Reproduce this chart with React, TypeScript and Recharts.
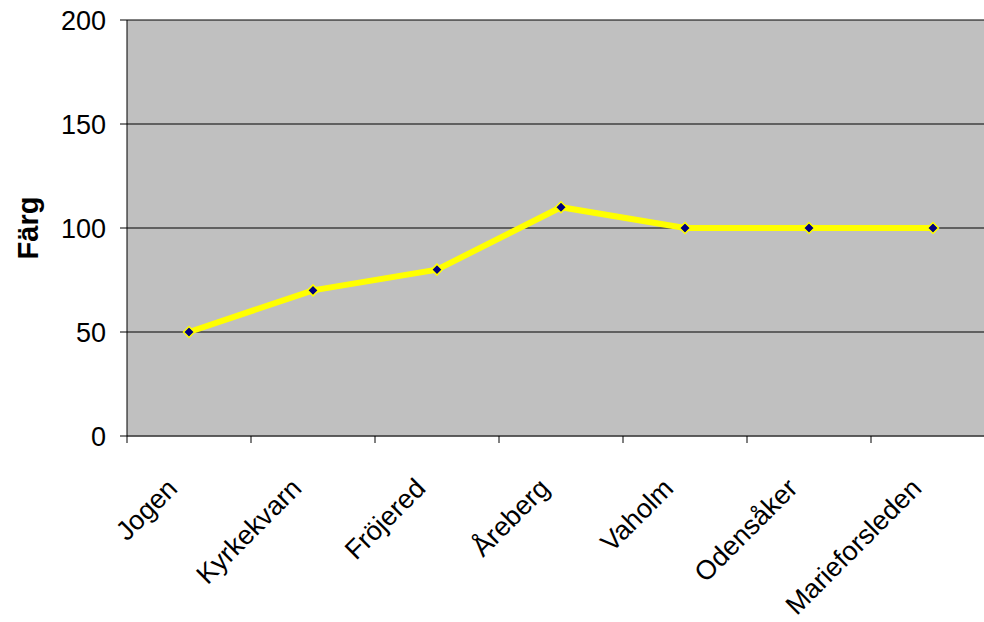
import { LineChart, Line, XAxis, YAxis, CartesianGrid } from 'recharts';

const categories = ['Jogen', 'Kyrkekvarn', 'Fröjered', 'Åreberg', 'Vaholm', 'Odensåker', 'Marieforsleden'];
const fargValues = [50, 70, 80, 110, 100, 100, 100];
const yTicks = [0, 50, 100, 150, 200];

const data = categories.map((name, i) => ({ name, farg: fargValues[i] }));

const PLOT_W = 868;
const HALF_BAND = PLOT_W / categories.length / 2;
const FONT = '"Liberation Sans", Arial, sans-serif';

function Diamond(props: any) {
  const { cx, cy } = props;
  if (cx == null || cy == null) return null;
  const r = 5.5;
  return (
    <polygon
      points={`${cx},${cy - r} ${cx + r},${cy} ${cx},${cy + r} ${cx - r},${cy}`}
      fill="#000080"
      stroke="#ffff00"
      strokeWidth={1.5}
    />
  );
}

// Excel-style ticks sit on category boundaries, labels rotated under the centre
function CategoryTick(props: any) {
  const { x, y, payload, index } = props;
  const last = index === categories.length - 1;
  const tx = x - 10;
  const ty = y + 54;
  return (
    <g>
      <line x1={x - HALF_BAND} y1={y} x2={x - HALF_BAND} y2={y + 7} stroke="#000" />
      {last && <line x1={x + HALF_BAND} y1={y} x2={x + HALF_BAND} y2={y + 7} stroke="#000" />}
      <text
        x={tx}
        y={ty}
        textAnchor="end"
        transform={`rotate(-45, ${tx}, ${ty})`}
        fontFamily={FONT}
        fontSize={27}
        fill="#000"
      >
        {payload.value}
      </text>
    </g>
  );
}

export default function App() {
  return (
    <div style={{ position: 'fixed', left: 0, top: 0, width: 984, height: 622, overflow: 'hidden', background: '#fff' }}>
      <LineChart
        width={1000}
        height={622}
        data={data}
        margin={{ top: 20, right: 5, left: 67, bottom: 6 }}
      >
        <CartesianGrid vertical={false} fill="#c0c0c0" stroke="#000" strokeOpacity={1} />
        <XAxis
          dataKey="name"
          interval={0}
          height={180}
          padding={{ left: HALF_BAND, right: HALF_BAND }}
          tickLine={false}
          tickSize={0}
          tickMargin={0}
          axisLine={{ stroke: '#555', strokeWidth: 1.5 }}
          tick={<CategoryTick />}
        />
        <YAxis
          domain={[0, 200]}
          ticks={yTicks}
          width={60}
          tickSize={7}
          tickMargin={14}
          axisLine={{ stroke: '#000' }}
          tickLine={{ stroke: '#000' }}
          tick={{ fill: '#000', fontSize: 27, fontFamily: FONT }}
          label={{
            value: 'Färg',
            angle: -90,
            position: 'insideLeft',
            offset: -39,
            style: { fill: '#000', fontSize: 29, fontWeight: 'bold', fontFamily: FONT, textAnchor: 'middle' },
          }}
        />
        <Line
          type="linear"
          dataKey="farg"
          stroke="#ffff00"
          strokeWidth={6}
          dot={<Diamond />}
          activeDot={false}
          isAnimationActive={false}
        />
      </LineChart>
    </div>
  );
}
